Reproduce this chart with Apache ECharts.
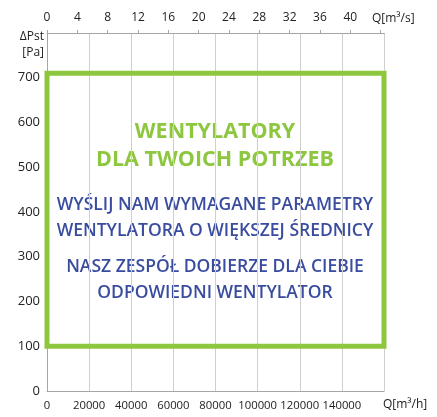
<!DOCTYPE html>
<html>
<head>
<meta charset="utf-8">
<script src="https://cdn.jsdelivr.net/npm/echarts@6/dist/echarts.min.js"></script>
<style>
html, body { margin: 0; padding: 0; background: #fff; }
#main { width: 437px; height: 417px; }
</style>
</head>
<body>
<div id="main"></div>
<script>
var myChart = echarts.init(document.getElementById('main'));

// frame of the "ask us" box, in data units (m3/h, Pa)
var boxQ = [0, 0, 160000, 160000, 0];
var boxP = [100, 710, 710, 100, 100];

var headLines = ['WENTYLATORY', 'DLA TWOICH POTRZEB'];
var bodyLines = ['WYŚLIJ NAM WYMAGANE PARAMETRY', 'WENTYLATORA O WIĘKSZEJ ŚREDNICY',
                 'NASZ ZESPÓŁ DOBIERZE DLA CIEBIE', 'ODPOWIEDNI WENTYLATOR'];

var qhMax = 160000;           // m3/h
var qsMax = qhMax / 3600;     // m3/s
var pMax = 800;
var qsLastLabel = 40;

var green = '#8dc63f';
var blue = '#3a4c9f';
var labelFont = 'Open Sans';

var boxData = [];
for (var i = 0; i < boxQ.length; i++) {
    boxData.push([boxQ[i], boxP[i]]);
}

var headY = [132, 160];
var bodyY = [205, 231, 267, 293];
var texts = [];
headLines.forEach(function (t, k) {
    texts.push({
        type: 'text', x: 215, y: headY[k], silent: true,
        style: { text: t, fill: green, font: 'bold 21.5px "Open Sans"', textAlign: 'center', textVerticalAlign: 'middle' }
    });
});
bodyLines.forEach(function (t, k) {
    texts.push({
        type: 'text', x: 215, y: bodyY[k], silent: true,
        style: { text: t, fill: blue, font: '600 17.5px "Open Sans"', textAlign: 'center', textVerticalAlign: 'middle' }
    });
});

var option = {
    animation: false,
    backgroundColor: '#fff',
    grid: { left: 47, right: 53, top: 33, bottom: 26 },
    xAxis: [{
        type: 'value',
        position: 'bottom',
        min: 0,
        max: qhMax,
        interval: 20000,
        name: 'Q[m³/h]',
        nameLocation: 'end',
        nameGap: -1,
        nameMoveOverlap: false,
        nameTextStyle: { color: '#222', fontFamily: labelFont, fontSize: 12, align: 'left', verticalAlign: 'top', padding: [8, 0, 0, 0] },
        axisLine: { lineStyle: { color: '#a6a6a6', width: 1 } },
        axisTick: { show: false },
        axisLabel: {
            color: '#222', fontFamily: labelFont, fontSize: 11.3, margin: 9, showMaxLabel: false,
            formatter: function (v) { return String(v); }
        },
        splitLine: { show: true, lineStyle: { color: '#cfcfcf', width: 1 } }
    }, {
        type: 'value',
        position: 'top',
        min: 0,
        max: qsMax,
        interval: 4,
        name: 'Q[m³/s]',
        nameLocation: 'end',
        nameGap: -12,
        nameMoveOverlap: false,
        nameTextStyle: { color: '#222', fontFamily: labelFont, fontSize: 12, align: 'left', verticalAlign: 'bottom', padding: [0, 0, 8, 0] },
        axisLine: { lineStyle: { color: '#a6a6a6', width: 1 } },
        axisTick: { show: true, length: 3, lineStyle: { color: '#a6a6a6' } },
        axisLabel: {
            color: '#222', fontFamily: labelFont, fontSize: 12, margin: 9, showMaxLabel: false,
            formatter: function (v) { return v > qsLastLabel ? '' : String(v); }
        },
        splitLine: { show: false }
    }],
    yAxis: {
        type: 'value',
        min: 0,
        max: pMax,
        interval: 100,
        name: 'ΔPst\n[Pa]',
        nameLocation: 'end',
        nameGap: 4,
        nameMoveOverlap: false,
        nameTextStyle: { color: '#222', fontFamily: labelFont, fontSize: 12, lineHeight: 16, align: 'right', verticalAlign: 'top', padding: [0, 3, 0, 0] },
        axisLine: { show: true, lineStyle: { color: '#a6a6a6', width: 1 } },
        axisTick: { show: false },
        axisLabel: { color: '#222', fontFamily: labelFont, fontSize: 13, margin: 7, showMaxLabel: false },
        splitLine: { show: false }
    },
    series: [{
        type: 'line',
        xAxisIndex: 0,
        yAxisIndex: 0,
        data: boxData,
        clip: false,
        symbol: 'none',
        silent: true,
        lineStyle: { color: green, width: 5, join: 'miter', cap: 'square' }
    }],
    graphic: texts
};

myChart.setOption(option);
</script>
</body>
</html>
